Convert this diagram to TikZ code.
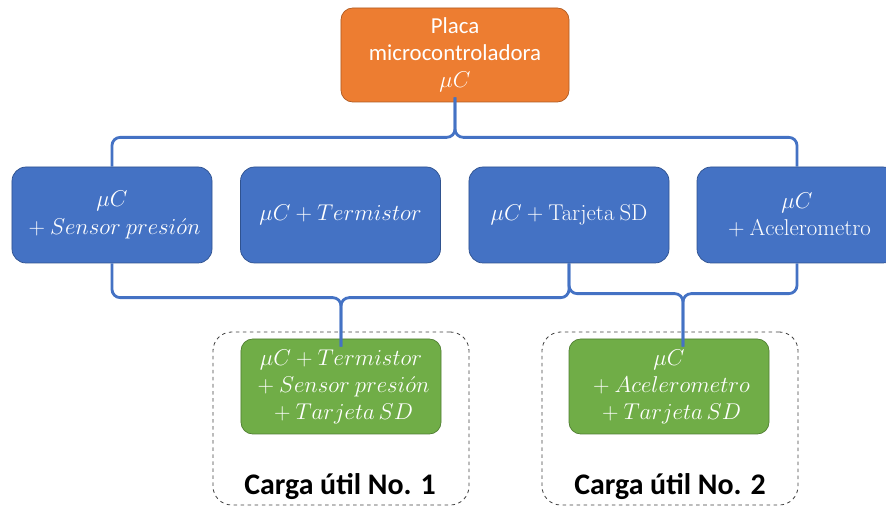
\documentclass[tikz,border=0pt]{standalone}
\usepackage{fix-cm}
\usepackage[no-math]{fontspec}
\setmainfont{Carlito}
\usepackage{xcolor}
\usepackage{tikz}
\usetikzlibrary{calc}
\definecolor{mcufill}{HTML}{ED7D31}
\definecolor{mcuedge}{HTML}{AE5A21}
\definecolor{combofill}{HTML}{4472C4}
\definecolor{comboedge}{HTML}{2F528F}
\definecolor{payfill}{HTML}{70AD47}
\definecolor{payedge}{HTML}{507E32}
\definecolor{braceblue}{HTML}{4472C4}
\tikzset{
  mcubox/.style={
    rounded corners=10pt,
    draw=mcuedge,
    line width=0.6pt,
    fill=mcufill,
    text=white,
    align=center,
    font=\fontsize{19.5}{23}\selectfont,
    minimum width=6.84cm,
    minimum height=2.82cm
  },
  combo/.style={
    rounded corners=12pt,
    draw=comboedge,
    line width=0.6pt,
    fill=combofill,
    text=white,
    align=center,
    font=\fontsize{19.5}{23.5}\selectfont,
    minimum width=6cm,
    minimum height=2.88cm
  },
  payload/.style={
    rounded corners=10pt,
    draw=payedge,
    line width=0.6pt,
    fill=payfill,
    text=white,
    align=center,
    font=\fontsize{19.5}{23}\selectfont,
    minimum width=6cm,
    minimum height=2.85cm
  },
  frame/.style={
    rounded corners=16pt,
    draw=black!75,
    dashed,
    line width=0.7pt,
    minimum width=7.68cm,
    minimum height=5.19cm
  },
  framelabel/.style={font=\fontsize{25.5}{30}\selectfont\bfseries, text=black},
  brace/.style={draw=braceblue, line width=2.4pt, rounded corners=7pt}
}

\begin{document}
\begin{tikzpicture}[x=0.03cm,y=0.03cm]
\useasboundingbox (0,0) rectangle (886,507);

% payload frames
\node[frame] (fr1) at (341,88.5) {};
\node[frame] (fr2) at (670,88.5) {};
\node[framelabel] (lab1) at (340,20) {Carga útil No. 1};
\node[framelabel] (lab2) at (670,20) {Carga útil No. 2};

\node[mcubox] (mcu) at (455,452) {Placa\\microcontroladora\\$\mu C$};

\node[combo] (b1) at (112,292) {$\mu C$\\${}+Sensor\ presi\acute{o}n$};
\node[combo] (b2) at (340.5,292) {$\mu C+Termistor$};
\node[combo] (b3) at (569,292) {$\mu C+\mathrm{Tarjeta\ SD}$};
\node[combo] (b4) at (797,292) {$\mu C$\\${}+\mathrm{Acelerometro}$};

\node[payload] (g1) at (341,120.5) {$\mu C+Termistor$\\${}+Sensor\ presi\acute{o}n$\\${}+Tarjeta\,SD$};
\node[payload] (g2) at (669,120.5) {$\mu C$\\${}+Acelerometro$\\${}+Tarjeta\,SD$};

% braces
\foreach \a in {b1,b4}
  \draw[brace] (\a.north) |- ($(mcu.south)+(0,-35)$) -- ($(mcu.south)+(0,5)$);
\foreach \a in {b1,b3}
  \draw[brace] (\a.south) |- ($(g1.north)+(0,41)$) -- ($(g1.north)+(0,-8)$);
\foreach \a in {b3,b4}
  \draw[brace] (\a.south) |- ($(g2.north)+(14,45)$) -- ($(g2.north)+(14,-8)$);
\end{tikzpicture}
\end{document}
